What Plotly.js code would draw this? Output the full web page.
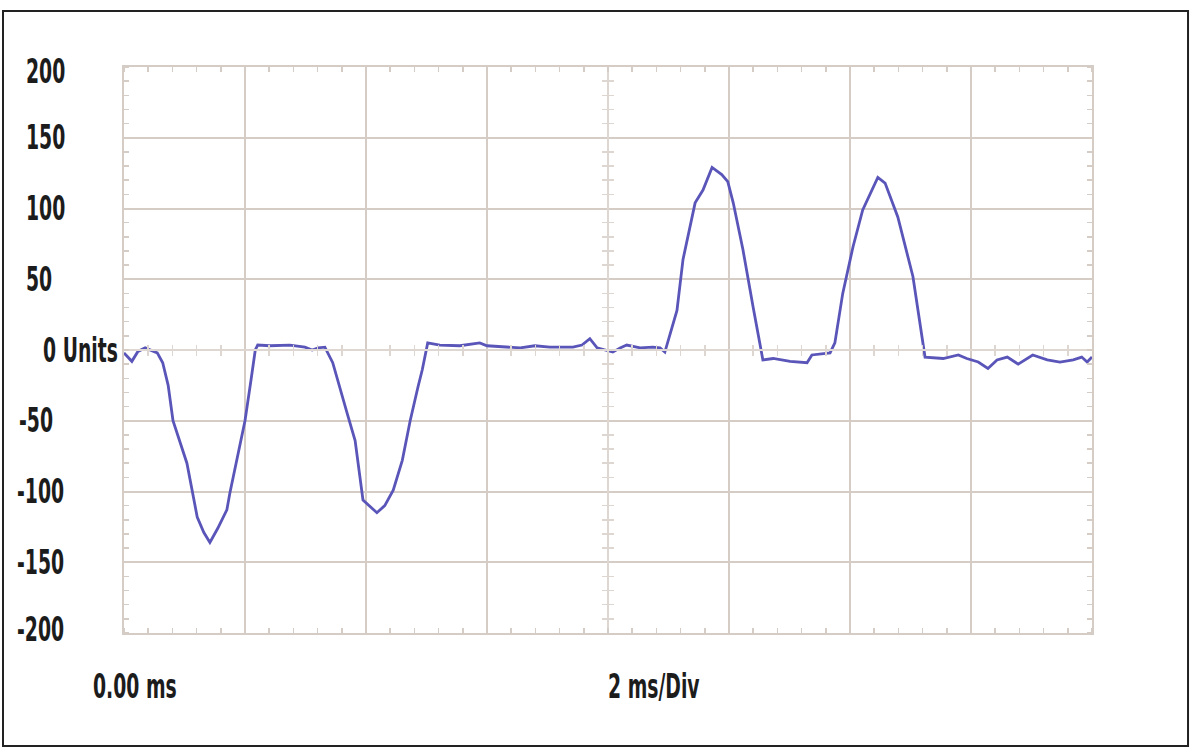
<!DOCTYPE html>
<html>
<head>
<meta charset="utf-8">
<script src="https://cdn.plot.ly/plotly-3.0.1.min.js"></script>
<style>
	html, body { margin: 0; padding: 0; background: #fff; }
	#scope { width: 1198px; height: 754px; }
</style>
</head>
<body>
<div id="scope"></div>
<script>
// Trace (time in ms, amplitude in units)
const timeMs = [
	0.00, 0.13, 0.23, 0.35, 0.55, 0.64, 0.73, 0.81, 1.04, 1.21, 1.32, 1.42, 1.55, 1.70, 1.75, 1.88,
	2.00, 2.10, 2.17, 2.21, 2.41, 2.74, 2.99, 3.11, 3.21, 3.32, 3.45, 3.69, 3.82, 3.95, 4.07, 4.18,
	4.31, 4.45, 4.60, 4.73, 4.86, 4.93, 5.02, 5.22, 5.55, 5.88, 6.00, 6.30, 6.55, 6.79, 7.04, 7.42,
	7.57, 7.70, 7.82, 8.08, 8.20, 8.31, 8.53, 8.74, 8.86, 8.94, 9.02, 9.14, 9.24, 9.39, 9.44, 9.57,
	9.72, 9.88, 9.98, 10.07, 10.23, 10.40, 10.56, 10.73, 11.01, 11.29, 11.37, 11.67, 11.75, 11.88,
	12.05, 12.21, 12.46, 12.58, 12.79, 13.04, 13.24, 13.54, 13.79, 13.93, 14.12, 14.28, 14.43, 14.60,
	14.78, 15.02, 15.26, 15.47, 15.69, 15.83, 15.92, 16.00,
];
const amplitude = [
	-2, -8, -1, 1.5, -2, -9, -25, -50, -80, -118, -129, -136, -126, -113, -101, -74,
	-50, -21, 0, 3.5, 3, 3.5, 2, 0, 1.5, 2, -9, -45, -64, -106, -111, -115,
	-110, -99, -78, -50, -26, -14, 5, 3.5, 3, 5, 3, 2, 1.5, 3, 2, 2,
	3.5, 8, 1.5, -1.5, 1.5, 3.5, 1.5, 2, 1.5, -1.5, 10.5, 28, 64, 94, 104, 113,
	129, 124, 119, 104, 71, 30, -7, -6, -8, -9, -3.5, -2, 5, 40,
	73, 99, 122, 118, 94, 52, -5, -6, -3.5, -6, -8.5, -13, -7, -5,
	-10, -3.5, -7, -8.5, -7, -5, -8.5, -5,
];

// Graticule labels
const yLabelVals = [200, 150, 100, 50, 0, -50, -100, -150, -200];
const yLabelText = ["200", "150", "100", "50", "0 Units", "-50", "-100", "-150", "-200"];
const timeLabels = ["0.00 ms", "2 ms/Div"];

// left edge (px) of each y label, as printed on the screen shot
const yLabelLeft = [27, 27, 27, 27, 44, 20, 18, 18, 18];

const labelFont = {
	family: "'DejaVu Sans', sans-serif",
	size: 33,
	weight: 700,
	color: "#1c1c1c",
};
// the screen font is a tall condensed face, squeeze the glyphs to match
const squeeze = 0.57;
const gridColor = "#d5ccc6";
const centreColor = "#ddd6d1";
const plotLeft = 124;

const traces = [
	{
		x: timeMs,
		y: amplitude,
		mode: "lines",
		line: { color: "#5a55b8", width: 2.8 },
		hoverinfo: "skip",
		showlegend: false,
	},
	// empty traces so the centre cross axes get drawn
	{ x: [], y: [], xaxis: "x2", yaxis: "y", showlegend: false },
	{ x: [], y: [], xaxis: "x3", yaxis: "y", showlegend: false },
	{ x: [], y: [], xaxis: "x", yaxis: "y2", showlegend: false },
	{ x: [], y: [], xaxis: "x", yaxis: "y3", showlegend: false },
];

const centreX = (ticks) => ({
	overlaying: "x",
	anchor: "free",
	position: 0.5,
	range: [0, 16],
	showgrid: false,
	zeroline: false,
	showticklabels: false,
	showline: ticks === "outside",
	linecolor: centreColor,
	linewidth: 2,
	ticks: "",
	minor: { dtick: 0.4, tick0: 0, ticks: ticks, ticklen: 5, tickwidth: 1.5, tickcolor: centreColor },
});

const centreY = (ticks) => ({
	overlaying: "y",
	anchor: "free",
	position: 0.5,
	range: [-200, 200],
	showgrid: false,
	zeroline: false,
	showticklabels: false,
	showline: ticks === "outside",
	linecolor: centreColor,
	linewidth: 2,
	ticks: "",
	minor: { dtick: 10, tick0: 0, ticks: ticks, ticklen: 5, tickwidth: 1.5, tickcolor: centreColor },
});

const annotations = [];
yLabelVals.forEach((v, i) => {
	annotations.push({
		xref: "paper",
		yref: "y",
		x: 0,
		y: v,
		xanchor: "left",
		yanchor: "middle",
		align: "left",
		xshift: yLabelLeft[i] - plotLeft - 3,
		yshift: v === 200 ? -4 : v === -200 ? 4 : 0,
		text: yLabelText[i],
		showarrow: false,
		font: labelFont,
	});
});
annotations.push(
	{ xref: "paper", yref: "paper", x: 0, y: -0.095, xanchor: "left", yanchor: "middle", align: "left",
		xshift: 94 - plotLeft - 3, text: timeLabels[0], showarrow: false, font: labelFont },
	{ xref: "paper", yref: "paper", x: 0.5, y: -0.095, xanchor: "left", yanchor: "middle", align: "left",
		xshift: -2, text: timeLabels[1], showarrow: false, font: labelFont },
);

const layout = {
	width: 1198,
	height: 754,
	margin: { l: plotLeft, r: 106, t: 67, b: 121 },
	paper_bgcolor: "#fff",
	plot_bgcolor: "#fff",
	xaxis: {
		range: [0, 16],
		tickvals: [0, 2, 4, 6, 10, 12, 14, 16],
		showticklabels: false,
		ticks: "",
		showgrid: true,
		gridcolor: gridColor,
		gridwidth: 2,
		zeroline: false,
		showline: true,
		mirror: "allticks",
		linecolor: gridColor,
		linewidth: 2,
		minor: { dtick: 0.4, tick0: 0, ticks: "inside", ticklen: 5, tickwidth: 1.5, tickcolor: gridColor, showgrid: false },
	},
	yaxis: {
		range: [-200, 200],
		tickvals: [-150, -100, -50, 50, 100, 150],
		showticklabels: false,
		ticks: "",
		showgrid: true,
		gridcolor: gridColor,
		gridwidth: 2,
		zeroline: false,
		showline: true,
		mirror: "allticks",
		linecolor: gridColor,
		linewidth: 2,
		minor: { dtick: 10, tick0: 0, ticks: "inside", ticklen: 5, tickwidth: 1.5, tickcolor: gridColor, showgrid: false },
	},
	xaxis2: centreX("outside"),
	xaxis3: centreX("inside"),
	yaxis2: centreY("outside"),
	yaxis3: centreY("inside"),
	annotations: annotations,
	shapes: [
		{
			type: "rect",
			xref: "paper",
			yref: "paper",
			x0: -0.125,
			x1: 1.0992,
			y0: -0.1996,
			y1: 1.0989,
			line: { color: "#222", width: 2 },
			fillcolor: "rgba(0,0,0,0)",
		},
	],
};

Plotly.newPlot("scope", traces, layout, { displayModeBar: false, staticPlot: true }).then((gd) => {
	// narrow the label glyphs in place (left edge stays put)
	gd.querySelectorAll(".annotation-text").forEach((el) => {
		const w = el.getComputedTextLength();
		el.setAttribute("textLength", (w * squeeze).toFixed(1));
		el.setAttribute("lengthAdjust", "spacingAndGlyphs");
	});
});
</script>
</body>
</html>
